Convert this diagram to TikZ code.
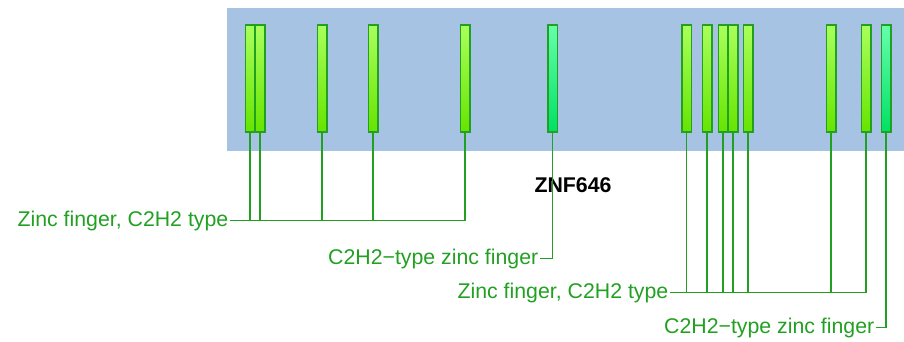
\documentclass[tikz,border=0pt]{standalone}
\usepackage{fontspec}
\setmainfont{Liberation Sans}
\usepackage{tikz}
\usetikzlibrary{positioning}
\usepackage{xcolor}
\definecolor{panelblue}{HTML}{A7C3E3}
\definecolor{zfgreen}{HTML}{22A022}
\definecolor{zftop}{HTML}{AAFF5C}
\definecolor{zfbot}{HTML}{66E400}
\definecolor{cztop}{HTML}{66FFAA}
\definecolor{czbot}{HTML}{00E064}

\begin{document}
\begin{tikzpicture}[x=1pt, y=-1pt, every node/.style={font=\fontsize{21.3}{24}\selectfont}]
\tikzset{zfbar/.style={draw=zfgreen, line width=1.5pt, top color=zftop, bottom color=zfbot, minimum width=9.5pt, minimum height=107pt, inner sep=0pt}}
\tikzset{czbar/.style={zfbar, top color=cztop, bottom color=czbot}}
\tikzset{lab/.style={text=zfgreen, anchor=east, inner sep=1.5pt}}
\tikzset{conn/.style={draw=zfgreen, line width=1.6pt}}
\useasboundingbox (0,0) rectangle (904,342);
\fill[panelblue] (227,8) rectangle (904,151);
\node[zfbar] (z1) at (250,78.5) {};
\node[zfbar] (z2) at (260,78.5) {};
\node[zfbar] (z3) at (322,78.5) {};
\node[zfbar] (z4) at (373,78.5) {};
\node[zfbar] (z5) at (465,78.5) {};
\node[czbar] (c1) at (552.5,78.5) {};
\node[zfbar] (z6) at (686.5,78.5) {};
\node[zfbar] (z7) at (707,78.5) {};
\node[zfbar] (z8) at (723,78.5) {};
\node[zfbar] (z9) at (733,78.5) {};
\node[zfbar] (z10) at (748,78.5) {};
\node[zfbar] (z11) at (831,78.5) {};
\node[zfbar] (z12) at (866,78.5) {};
\node[czbar] (c2) at (886,78.5) {};
\node[font=\fontsize{21.3}{24}\selectfont\bfseries] (gene) at (573,185) {ZNF646};
\node[lab] (zfa) at (230,220.5) {Zinc finger, C2H2 type};
\node[lab] (cza) at (540,258.5) {C2H2−type zinc finger};
\node[lab] (zfb) at (670,292.5) {Zinc finger, C2H2 type};
\node[lab] (czb) at (876,327.5) {C2H2−type zinc finger};
\foreach \b in {z1,z2,z3,z4,z5} \draw[conn] (\b.south) |- (zfa.east);
\draw[conn] (c1.south) |- (cza.east);
\foreach \b in {z6,z7,z8,z9,z10,z11,z12} \draw[conn] (\b.south) |- (zfb.east);
\draw[conn] (c2.south) |- (czb.east);
\end{tikzpicture}
\end{document}
